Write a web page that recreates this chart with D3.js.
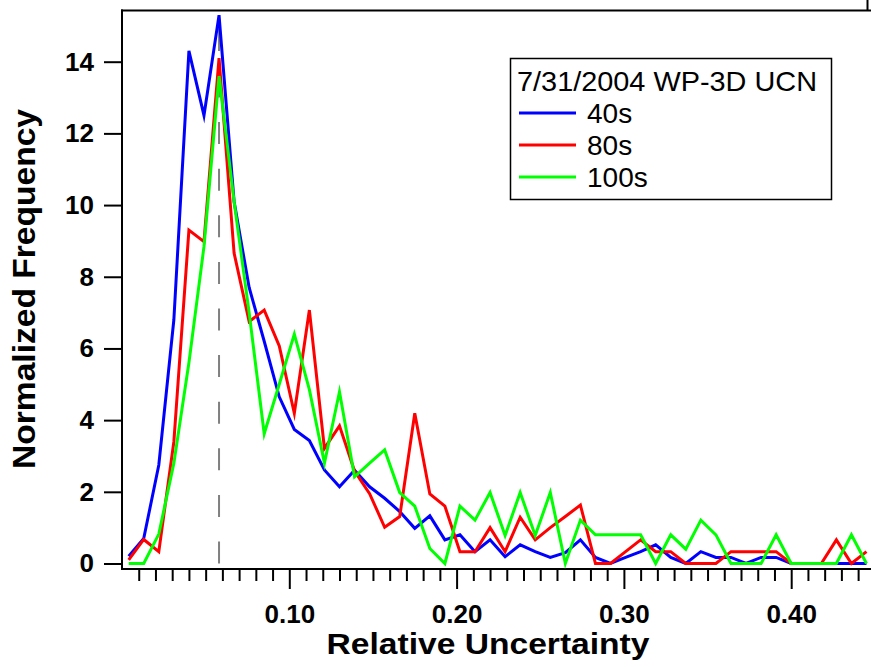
<!DOCTYPE html>
<html><head><meta charset="utf-8">
<script src="https://cdn.jsdelivr.net/npm/d3@7"></script>
<style>
html,body{margin:0;padding:0;background:#fff;}
svg{display:block;font-family:"Liberation Sans",Arial,Helvetica,sans-serif;}
</style></head><body>
<svg id="chart" width="871" height="667"></svg>
<script>
// ---- data ----
const binCenters = [0.004,0.013,0.022,0.031,0.040,0.049,0.058,0.067,0.076,0.085,
  0.094,0.103,0.112,0.121,0.130,0.139,0.148,0.157,0.166,0.175,
  0.184,0.193,0.202,0.211,0.220,0.229,0.238,0.247,0.256,0.265,
  0.274,0.283,0.292,0.301,0.310,0.319,0.328,0.337,0.346,0.355,
  0.364,0.373,0.382,0.391,0.400,0.409,0.418,0.427,0.436,0.445];
const series40s = [0.2,0.7,2.75,6.8,14.3,12.5,15.3,10.1,7.7,6.2,
  4.65,3.74,3.43,2.61,2.14,2.6,2.14,1.82,1.45,0.98,
  1.33,0.66,0.8,0.33,0.66,0.19,0.52,0.33,0.17,0.3,
  0.66,0.17,0,0.17,0.33,0.52,0.17,0,0.33,0.17,
  0.17,0,0.17,0.17,0,0,0,0,0,0];
const series80s = [0.1,0.67,0.33,3.4,9.3,8.98,14.1,8.66,6.75,7.07,
  6.07,4.19,7.07,3.21,3.84,2.58,1.95,1.01,1.31,4.19,
  1.94,1.6,0.33,0.33,1.0,0.33,1.29,0.66,1.0,1.31,
  1.63,0,0,0.33,0.66,0.33,0.33,0,0,0,
  0.33,0.33,0.33,0.33,0,0,0,0.66,0,0.33];
const series100s = [0,0,0.82,2.8,5.6,8.84,13.6,10.1,7.0,3.62,
  5.0,6.4,4.85,2.8,4.79,2.42,2.8,3.17,1.98,1.6,
  0.42,0,1.6,1.21,1.98,0.78,1.98,0.78,1.98,0,
  1.21,0.8,0.8,0.8,0.8,0,0.8,0.4,1.21,0.8,
  0,0,0,0.8,0,0,0,0,0.8,0];
const seriesNames = ["40s","80s","100s"];
const seriesColors = ["#0000ff","#ff0000","#00ff00"];
const legendTitle = "7/31/2004 WP-3D UCN";
const yTickValues = [0,2,4,6,8,10,12,14];
const xMajorTicks = [0.10,0.20,0.30,0.40];
const xMinorTicks = [0.01,0.02,0.03,0.04,0.05,0.06,0.07,0.08,0.09,
  0.11,0.12,0.13,0.14,0.15,0.16,0.17,0.18,0.19,
  0.21,0.22,0.23,0.24,0.25,0.26,0.27,0.28,0.29,
  0.31,0.32,0.33,0.34,0.35,0.36,0.37,0.38,0.39,
  0.41,0.42,0.43,0.44];
const markerX = 0.058;   // dashed vertical marker (mode)
const markerTop = 15.3;
const xTitle = "Relative Uncertainty";
const yTitle = "Normalized Frequency";

// ---- drawing ----
const svg = d3.select("#chart");
const x = d3.scaleLinear().domain([0, 0.4477]).range([122, 871]);
const y = d3.scaleLinear().domain([0, 14]).range([563.5, 61.7]);
const axisBottomY = 569, topY = 10.5, leftX = 122;
const FONT = "Liberation Sans, Arial, sans-serif";

// frame lines
svg.append("line").attr("x1",leftX-1).attr("x2",871).attr("y1",topY).attr("y2",topY)
  .attr("stroke","#000").attr("stroke-width",2);
svg.append("line").attr("x1",867.5).attr("x2",867.5).attr("y1",0).attr("y2",topY)
  .attr("stroke","#000").attr("stroke-width",2);

// y axis
const gy = svg.append("g").attr("transform",`translate(${leftX},0)`)
  .call(d3.axisLeft(y).tickValues(yTickValues).tickSize(18).tickPadding(10).tickFormat(d3.format("d")));
gy.select(".domain").remove();
gy.selectAll(".tick line").attr("stroke","#000").attr("stroke-width",2);
gy.selectAll(".tick text").attr("font-size",26).attr("font-weight","bold")
  .attr("font-family",FONT).attr("fill","#000");
svg.append("line").attr("x1",leftX).attr("x2",leftX).attr("y1",topY-1).attr("y2",axisBottomY+1)
  .attr("stroke","#000").attr("stroke-width",2);

// x axis minor
const gxm = svg.append("g").attr("transform",`translate(0,${axisBottomY})`)
  .call(d3.axisBottom(x).tickValues(xMinorTicks).tickSize(12).tickFormat(""));
gxm.select(".domain").remove();
gxm.selectAll(".tick line").attr("stroke","#000").attr("stroke-width",2);
// x axis major
const gx = svg.append("g").attr("transform",`translate(0,${axisBottomY})`)
  .call(d3.axisBottom(x).tickValues(xMajorTicks).tickSize(20).tickPadding(15.5).tickFormat(d3.format(".2f")));
gx.select(".domain").remove();
gx.selectAll(".tick line").attr("stroke","#000").attr("stroke-width",2);
gx.selectAll(".tick text").attr("font-size",26).attr("font-weight","bold")
  .attr("font-family",FONT).attr("fill","#000");
svg.append("line").attr("x1",leftX-1).attr("x2",871).attr("y1",axisBottomY).attr("y2",axisBottomY)
  .attr("stroke","#000").attr("stroke-width",2);

// dashed marker
svg.append("line").attr("x1",x(markerX)).attr("x2",x(markerX))
  .attr("y1",y(0)).attr("y2",y(markerTop))
  .attr("stroke","#808080").attr("stroke-width",2).attr("stroke-dasharray","22,24.6");

// series lines
const allSeries = [series40s, series80s, series100s];
const line = d3.line().x((d,i)=>x(binCenters[i])).y(d=>y(d));
allSeries.forEach((s,si)=>{
  svg.append("path").datum(s).attr("d",line).attr("fill","none")
    .attr("stroke",seriesColors[si]).attr("stroke-width",3)
    .attr("stroke-linejoin","miter").attr("stroke-miterlimit",6);
});

// legend
const lg = svg.append("g");
lg.append("rect").attr("x",510.5).attr("y",58.5).attr("width",321).attr("height",141)
  .attr("fill","#fff").attr("stroke","#000").attr("stroke-width",1.5);
lg.append("text").attr("x",517).attr("y",91).attr("font-size",28)
  .attr("textLength",300).attr("lengthAdjust","spacingAndGlyphs").attr("fill","#000").text(legendTitle);
const entryY = [113,145,177];
seriesNames.forEach((n,i)=>{
  lg.append("line").attr("x1",519).attr("x2",576).attr("y1",entryY[i]).attr("y2",entryY[i])
    .attr("stroke",seriesColors[i]).attr("stroke-width",3);
  lg.append("text").attr("x",587).attr("y",entryY[i]+10).attr("font-size",28).attr("fill","#000").text(n);
});

// titles
svg.append("text").attr("x",488).attr("y",654).attr("text-anchor","middle")
  .attr("font-size",30).attr("font-weight","bold").attr("fill","#000")
  .attr("textLength",323).attr("lengthAdjust","spacingAndGlyphs").text(xTitle);
svg.append("text").attr("transform","translate(35,289) rotate(-90)").attr("text-anchor","middle")
  .attr("font-size",32).attr("font-weight","bold").attr("fill","#000")
  .attr("textLength",360).attr("lengthAdjust","spacingAndGlyphs").text(yTitle);
</script>
</body></html>
